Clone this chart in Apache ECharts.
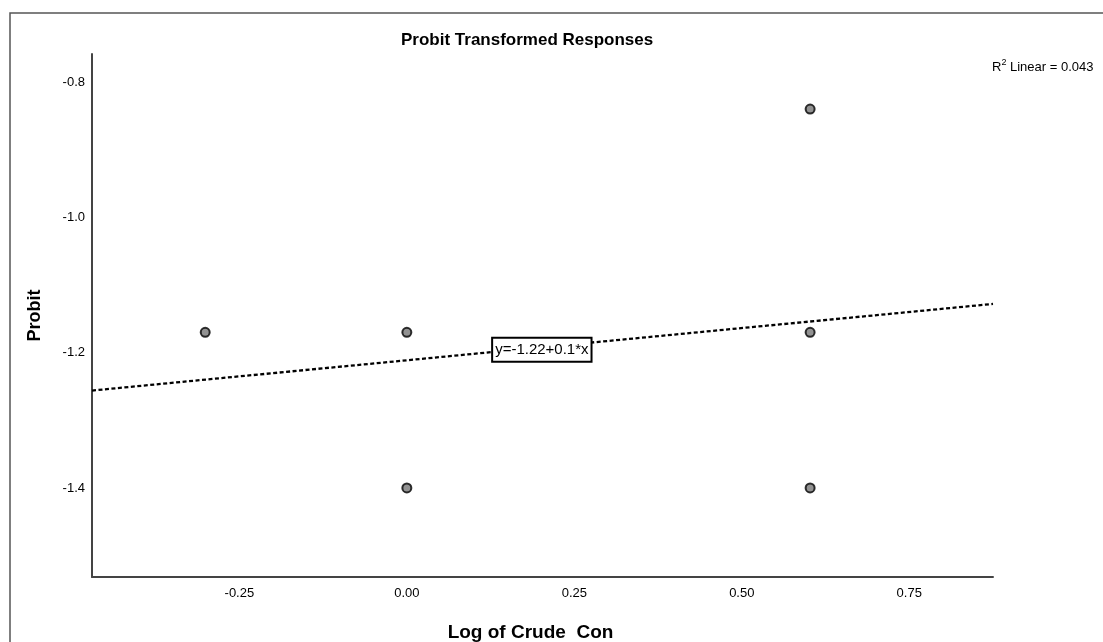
<!DOCTYPE html>
<html>
<head>
<meta charset="utf-8">
<script src="https://cdn.jsdelivr.net/npm/echarts@6/dist/echarts.min.js"></script>
<style>
html,body{margin:0;padding:0;background:#fff;}
#chart{width:1103px;height:642px;}
</style>
</head>
<body>
<div id="chart"></div>
<script>
// Data
const logConc = [-0.301, 0, 0, 0.602, 0.602, 0.602];
const probit = [-1.17, -1.17, -1.40, -0.84, -1.17, -1.40];
const fitLineX = [-0.470, 0.875];
const fitLineY = [-1.256, -1.128];
const fitLabelPos = [0.2015, -1.1956];
const fitLabelText = 'y=-1.22+0.1*x';
const r2Text = '0.043';
const xTicks = [-0.25, 0, 0.25, 0.5, 0.75];
const yTicks = [-1.4, -1.2, -1.0, -0.8];
const xRange = [-0.470, 0.875];
const yRange = [-1.5316, -0.7586];

const FONT = '"Liberation Sans", Arial, sans-serif';
const chart = echarts.init(document.getElementById('chart'), null, {renderer: 'canvas'});

const option = {
  backgroundColor: '#fff',
  animation: false,
  title: {
    text: 'Probit Transformed Responses',
    left: 396, top: 27,
    textStyle: {fontFamily: FONT, fontSize: 17, fontWeight: 'bold', color: '#000'}
  },
  grid: {left: 92, right: 110, top: 54, bottom: 65, containLabel: false, outerBoundsMode: 'none'},
  xAxis: {
    type: 'value', min: xRange[0], max: xRange[1],
    name: 'Log of Crude  Con', nameLocation: 'middle', nameGap: 46,
    nameTextStyle: {fontFamily: FONT, fontSize: 19, fontWeight: 'bold', color: '#000', padding: [0, 24, 0, 0]},
    axisLine: {show: true, onZero: false, lineStyle: {color: '#444', width: 2}},
    axisTick: {show: false},
    splitLine: {show: false},
    axisLabel: {customValues: xTicks, formatter: v => v.toFixed(2), fontFamily: FONT, fontSize: 13, color: '#000', margin: 10, showMinLabel: true, showMaxLabel: true}
  },
  yAxis: {
    type: 'value', min: yRange[0], max: yRange[1],
    name: 'Probit', nameLocation: 'middle', nameGap: 48, nameRotate: 90,
    nameTextStyle: {fontFamily: FONT, fontSize: 18, fontWeight: 'bold', color: '#000'},
    axisLine: {show: true, onZero: false, lineStyle: {color: '#444', width: 2}},
    axisTick: {show: false},
    splitLine: {show: false},
    axisLabel: {customValues: yTicks, formatter: v => v.toFixed(1), fontFamily: FONT, fontSize: 13, color: '#000', margin: 7}
  },
  graphic: [
    {type: 'rect', shape: {x: 10, y: 13, width: 1200, height: 1000}, style: {fill: 'none', stroke: '#555', lineWidth: 1.5}, z: 0, silent: true},
    {type: 'text', left: 992, top: 58, style: {
      text: '{n|R}{s|2}{n| Linear = ' + r2Text + '}',
      rich: {
        n: {fontFamily: FONT, fontSize: 13, fill: '#000', verticalAlign: 'bottom'},
        s: {fontFamily: FONT, fontSize: 9, fill: '#000', verticalAlign: 'top', padding: [0, 0, 7, 0]}
      }
    }}
  ],
  series: [
    {
      type: 'line',
      data: fitLineX.map((x, i) => [x, fitLineY[i]]),
      showSymbol: false, symbol: 'none',
      lineStyle: {color: '#000', width: 2.3, type: [4, 2.5]},
      z: 2, silent: true
    },
    {
      type: 'scatter',
      data: logConc.map((x, i) => [x, probit[i]]),
      symbol: 'circle', symbolSize: 9,
      itemStyle: {color: '#777', borderColor: '#000', borderWidth: 2},
      z: 4
    }
  ]
};
chart.setOption(option);

// Equation box placed through the chart's own scales
const p = chart.convertToPixel({gridIndex: 0}, fitLabelPos);
chart.setOption({
  graphic: [
    {type: 'rect', shape: {x: 10, y: 13, width: 1200, height: 1000}, style: {fill: 'none', stroke: '#555', lineWidth: 1.5}, z: 0, silent: true},
    {type: 'text', left: 992, top: 58, style: {
      text: '{n|R}{s|2}{n| Linear = ' + r2Text + '}',
      rich: {
        n: {fontFamily: FONT, fontSize: 13, fill: '#000', verticalAlign: 'bottom'},
        s: {fontFamily: FONT, fontSize: 9, fill: '#000', verticalAlign: 'top', padding: [0, 0, 7, 0]}
      }
    }},
    {type: 'text', x: p[0], y: p[1], z: 100, style: {
      text: fitLabelText, fontFamily: FONT, fontSize: 15, fill: '#000',
      align: 'center', verticalAlign: 'middle',
      backgroundColor: '#fff', borderColor: '#000', borderWidth: 2,
      padding: [4, 2, 3, 2]
    }}
  ]
}, {replaceMerge: ['graphic']});
</script>
</body>
</html>
